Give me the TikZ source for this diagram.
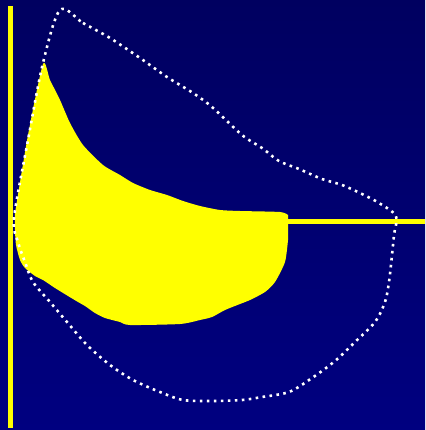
\documentclass[tikz,border=0pt]{standalone}
\usepackage{tikz}
\usetikzlibrary{backgrounds}
\definecolor{navytop}{RGB}{0,0,96}
\definecolor{navybot}{RGB}{0,0,128}
\definecolor{fieldyellow}{RGB}{255,255,0}

\begin{document}
\begin{tikzpicture}[
    x=1pt, y=-1pt,
    axisline/.style={draw=none, fill=fieldyellow},
    region/.style={fill=fieldyellow, draw=none},
    outline/.style={draw=white, line width=2.6pt, dash pattern=on 2.6pt off 4.4pt, line join=round},
]
\useasboundingbox (0,0) rectangle (425,430);
\shade[top color=navytop, bottom color=navybot] (0,0) rectangle (425,430);
% axes
\fill[axisline] (8,6) rectangle (13,428);
\fill[axisline] (288,219) rectangle (425,224);
% filled region
\fill[region] plot[smooth, tension=0.4] coordinates {
    (15,213) (28,135) (43,64) (50,80) (60,100) (70,123) (83,145) (103,165) (120,175) (133,183)
    (150,190) (167,195) (183,201) (200,206) (220,210) (240,211) (280,212) (288,215)}
    -- (288,240) -- plot[smooth, tension=0.4] coordinates {
    (288,240) (285,262) (275,282) (265,292) (250,300) (240,304) (225,310) (212,317) (200,320)
    (180,324) (130,325) (120,322) (105,318) (95,313) (85,306) (78,302) (68,296) (55,288)
    (43,280) (35,276) (25,268) (20,260) (16,245) (15,230) (15,213)} -- cycle;
% dotted outline
\draw[outline] plot[smooth cycle, tension=0.5] coordinates {
    (60,10) (83,23) (110,38) (140,58) (167,77) (193,93) (212,107) (242,135) (262,148) (279,161)
    (299,169) (322,179) (342,185) (362,194) (379,203) (396,216) (394,235) (392,255) (389,282)
    (385,302) (375,322) (355,342) (335,361) (312,378) (289,392) (262,397) (242,400) (212,401)
    (183,400) (160,392) (133,380) (110,365) (87,345) (67,322) (50,302) (33,282) (25,262) (18,242)
    (14,218) (28,140) (43,63)};
\end{tikzpicture}
\end{document}
